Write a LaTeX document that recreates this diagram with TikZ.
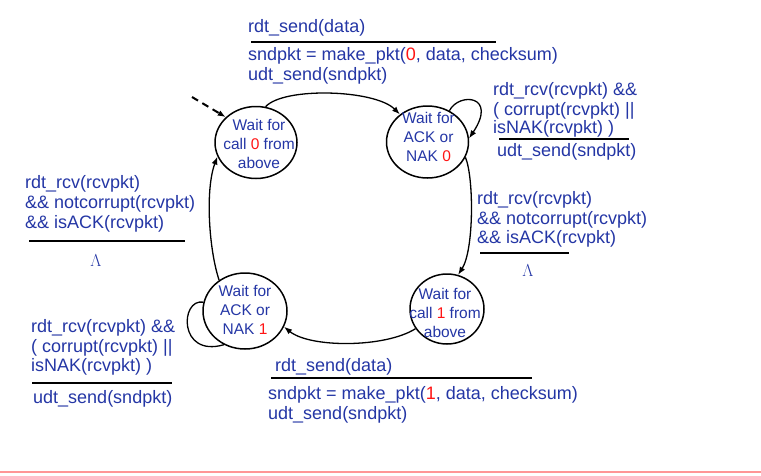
\documentclass[tikz,border=0pt]{standalone}
\usepackage{fontspec}
\setmainfont{Liberation Sans}
\usetikzlibrary{shapes.geometric,arrows.meta}
\definecolor{tblue}{RGB}{36,54,165}
\definecolor{tred}{RGB}{255,20,20}
\definecolor{pinkline}{RGB}{255,150,150}
\begin{document}
\begin{tikzpicture}[x=1pt,y=-1pt,
  state/.style={draw, line width=1.5pt, shape=ellipse, minimum width=82pt, minimum height=72pt, inner sep=0pt},
  stxt/.style={text=tblue, align=center, font=\fontsize{15.5}{19}\selectfont, inner sep=0pt},
  lbl/.style={text=tblue, anchor=base west, font=\fontsize{18}{20}\selectfont, inner sep=0pt},
  bar/.style={line width=2.8pt},
  conn/.style={line width=1.3pt, -{Latex[length=8pt,width=6pt]}},
  lam/.style={text=tblue, font=\fontsize{19}{19}\selectfont, inner sep=0pt}]
\useasboundingbox (0,0) rectangle (761,475);

% states
\node[state] (s0) at (256,142.5) {};
\node[stxt] (s0t) at (259,144) {Wait for\\call \textcolor{tred}{0} from\\above};
\node[state] (s1) at (427.5,142) {};
\node[stxt] (s1t) at (428.5,137) {Wait for\\ACK or\\NAK \textcolor{tred}{0}};
\node[state, minimum width=74pt, minimum height=70pt] (s2) at (447,309) {};
\node[stxt] (s2t) at (445,313) {Wait for\\call \textcolor{tred}{1} from\\above};
\node[state, minimum width=84pt, minimum height=76pt] (s3) at (245,311) {};
\node[stxt] (s3t) at (245,309.5) {Wait for\\ACK or\\NAK \textcolor{tred}{1}};

% connectors
\coordinate (d0) at (192,97);
\draw[conn, line width=2pt, dash pattern=on 7pt off 5pt] (d0) -- (s0.140);
\draw[conn] (s0.75) .. controls +(18,-20) and +(-25,-25) .. (s1.135);
\draw[conn] (s1.55) .. controls (459,92) and (498,95) .. (s1.5);
\draw[conn] (s1.-22) .. controls (474,178) and (474,250) .. (s2.72);
\draw[conn] (s2.212) .. controls (385,348) and (310,348) .. (s3.-22);
\draw[line width=1.3pt] (s3.168) .. controls (180,298) and (178,358) .. (s3.238);
\draw[conn] (s3.130) .. controls (209,250) and (205,190) .. (s0.200);

% top label
\node[lbl] (a1) at (248,32) {rdt\_send(data)};
\draw[bar] (251,42) -- (496,42);
\node[lbl] (a2) at (248,60) {sndpkt = make\_pkt(\textcolor{tred}{0}, data, checksum)};
\node[lbl] (a3) at (248,80) {udt\_send(sndpkt)};

% S1 self loop label
\node[lbl] (b1) at (493,95) {rdt\_rcv(rcvpkt) \&\&};
\node[lbl] (b2) at (493,115) {( corrupt(rcvpkt) ||};
\node[lbl] (b3) at (493,133) {isNAK(rcvpkt) )};
\draw[bar] (499,139) -- (629,139);
\node[lbl] (b4) at (497,156) {udt\_send(sndpkt)};

% right label
\node[lbl] (c1) at (477,204) {rdt\_rcv(rcvpkt)};
\node[lbl] (c2) at (477,224) {\&\& notcorrupt(rcvpkt)};
\node[lbl] (c3) at (477,243) {\&\& isACK(rcvpkt)};
\draw[bar] (480,253) -- (569,253);
\node[lam] (c4) at (528,271) {$\Lambda$};

% left label
\node[lbl] (e1) at (25,188) {rdt\_rcv(rcvpkt)};
\node[lbl] (e2) at (25,208) {\&\& notcorrupt(rcvpkt)};
\node[lbl] (e3) at (25,228) {\&\& isACK(rcvpkt)};
\draw[bar] (29,241) -- (185,241);
\node[lam] (e4) at (96,261) {$\Lambda$};

% bottom-left label
\node[lbl] (f1) at (31,332) {rdt\_rcv(rcvpkt) \&\&};
\node[lbl] (f2) at (31,352) {( corrupt(rcvpkt) ||};
\node[lbl] (f3) at (31,371) {isNAK(rcvpkt) )};
\draw[bar] (32,383) -- (172,383);
\node[lbl] (f4) at (33,403) {udt\_send(sndpkt)};

% bottom label
\node[lbl] (g1) at (275,371) {rdt\_send(data)};
\draw[bar] (271,378) -- (532,378);
\node[lbl] (g2) at (268,399) {sndpkt = make\_pkt(\textcolor{tred}{1}, data, checksum)};
\node[lbl] (g3) at (268,419) {udt\_send(sndpkt)};

% bottom rule
\draw[pinkline, line width=2pt] (0,472) -- (761,472);
\end{tikzpicture}
\end{document}
